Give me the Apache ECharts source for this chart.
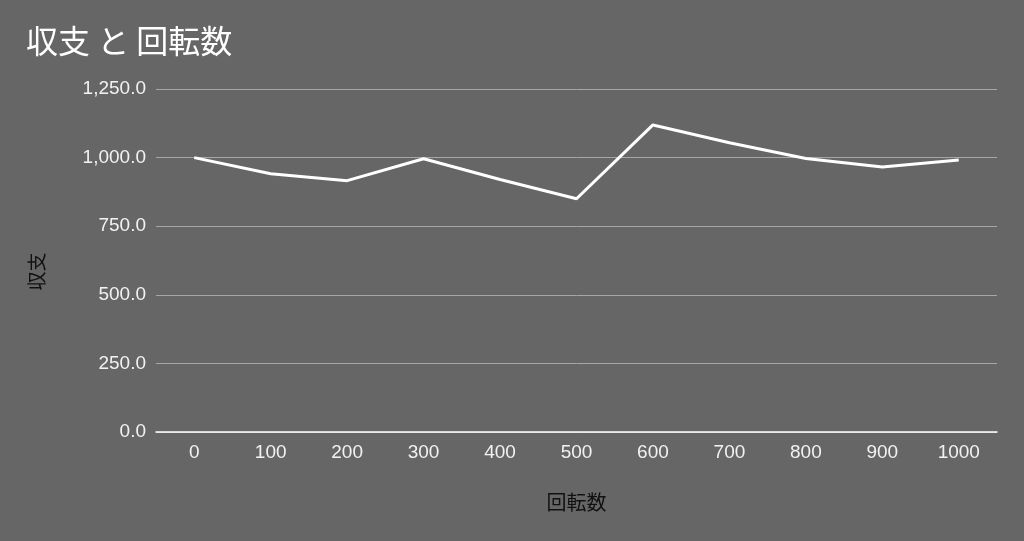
<!DOCTYPE html>
<html><head><meta charset="utf-8">
<script src="https://cdn.jsdelivr.net/npm/echarts@6/dist/echarts.min.js"></script>
<style>html,body{margin:0;padding:0;background:#666666;}#c{width:1024px;height:541px;}</style>
</head><body><div id="c"></div>
<script>
const categories = ['0','100','200','300','400','500','600','700','800','900','1000'];
const balance = [1000, 941, 916, 996, 920, 850, 1119, 1054, 997, 966, 991];
const yTicks = [0, 250, 500, 750, 1000, 1250];
const titleText = '収支 と 回転数';
const xName = '回転数';
const yName = '収支';

const chart = echarts.init(document.getElementById('c'));
const font = '"Noto Sans CJK JP", "Liberation Sans", Arial, sans-serif';
const numFont = '"Liberation Sans", Arial, sans-serif';
chart.setOption({
  backgroundColor: '#666666',
  animation: false,
  title: {
    text: titleText, left: 21, top: 20,
    textStyle: {color: '#ffffff', fontSize: 32, fontWeight: 'normal', fontFamily: font}
  },
  grid: {left: 156, right: 27, top: 89, bottom: 109},
  xAxis: {
    type: 'category', data: categories, boundaryGap: true,
    name: xName, nameLocation: 'middle', nameGap: 60,
    nameTextStyle: {color: '#111111', fontSize: 20, fontFamily: font},
    axisLine: {lineStyle: {color: '#ffffff', width: 1.5}},
    axisTick: {show: false},
    axisLabel: {color: '#f2f2f2', fontSize: 19, margin: 11, fontFamily: numFont}
  },
  yAxis: {
    type: 'value', min: yTicks[0], max: yTicks[yTicks.length-1], interval: 250,
    name: yName, nameLocation: 'middle', nameGap: 110, nameRotate: 90,
    nameTextStyle: {color: '#111111', fontSize: 19, fontFamily: font, padding: [0, 22, 0, 0]},
    axisLine: {show: false}, axisTick: {show: false},
    splitLine: {lineStyle: {color: '#a6a6a6', width: 1}},
    axisLabel: {
      color: '#f2f2f2', fontSize: 19, margin: 10, fontFamily: numFont,
      formatter: v => v.toLocaleString('en-US', {minimumFractionDigits: 1, maximumFractionDigits: 1})
    }
  },
  series: [{
    type: 'line', data: balance, symbol: 'none',
    lineStyle: {color: '#ffffff', width: 3}
  }]
});
</script></body></html>
